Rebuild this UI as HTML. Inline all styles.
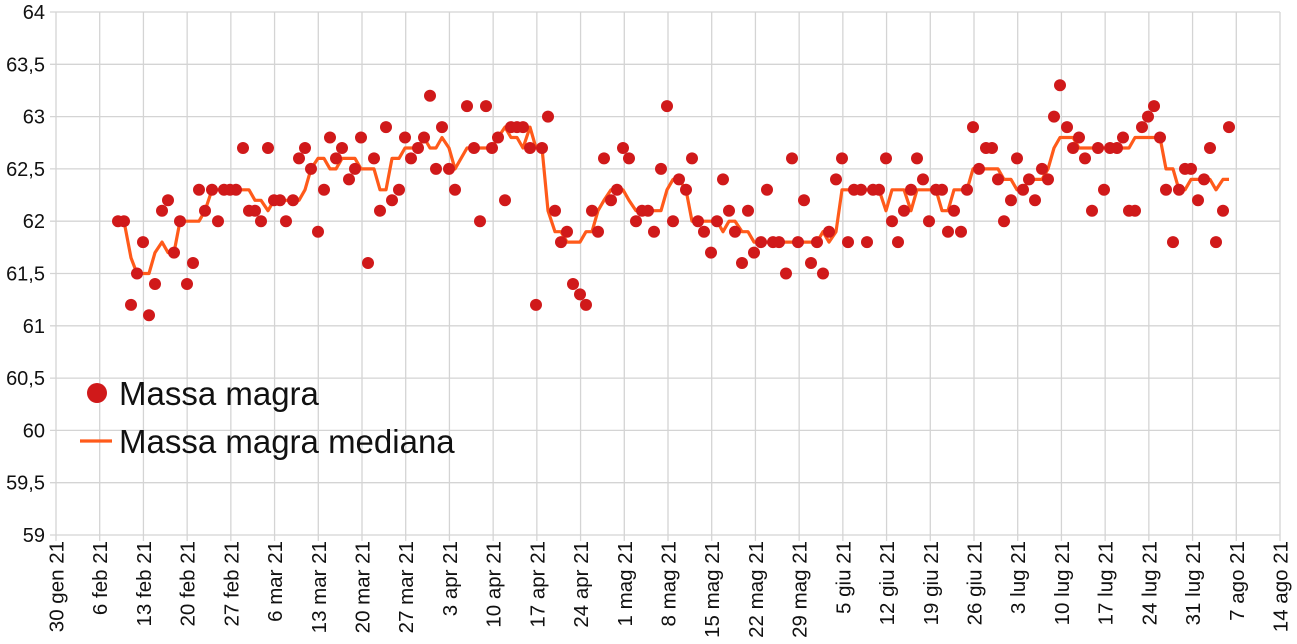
<!DOCTYPE html>
<html><head><meta charset="utf-8"><style>
html,body{margin:0;padding:0;background:#fff;width:1297px;height:644px;overflow:hidden}
svg{display:block;font-family:"Liberation Sans",sans-serif}
</style></head><body>
<svg id="s" width="1297" height="644" xmlns="http://www.w3.org/2000/svg"></svg>
<script>
const s=document.getElementById('s');
const L=56,R=1280,T=12,B=535;
const Y=v=>T+(64-v)*(B-T)/5;
let h='';
for(let i=0;i<=10;i++){const y=T+i*(B-T)/10;h+=`<line x1="${L-6}" y1="${y}" x2="${R}" y2="${y}" stroke="#d4d4d4" stroke-width="1.3"/>`;
const v=(64-i*0.5).toString().replace('.',',');h+=`<text x="45" y="${y+7}" font-size="20" text-anchor="end" fill="#111">${v}</text>`;}
const labels=["30 gen 21","6 feb 21","13 feb 21","20 feb 21","27 feb 21","6 mar 21","13 mar 21","20 mar 21","27 mar 21","3 apr 21","10 apr 21","17 apr 21","24 apr 21","1 mag 21","8 mag 21","15 mag 21","22 mag 21","29 mag 21","5 giu 21","12 giu 21","19 giu 21","26 giu 21","3 lug 21","10 lug 21","17 lug 21","24 lug 21","31 lug 21","7 ago 21","14 ago 21"];
labels.forEach((t,i)=>{const x=L+i*(R-L)/28;h+=`<line x1="${x}" y1="${T}" x2="${x}" y2="${B+6}" stroke="#d4d4d4" stroke-width="1.3"/>`;
h+=`<text transform="translate(${x+7.5},541) rotate(-90)" font-size="20.5" text-anchor="end" fill="#111">${t}</text>`;});
const d=[[118,62],[124,62],[131,61.2],[137,61.5],[143,61.8],[149,61.1],[155,61.4],[162,62.1],[168,62.2],[174,61.7],[180,62],[187,61.4],[193,61.6],[199,62.3],[205,62.1],[212,62.3],[218,62],[224,62.3],[230,62.3],[236,62.3],[243,62.7],[249,62.1],[255,62.1],[261,62],[268,62.7],[274,62.2],[280,62.2],[286,62],[293,62.2],[299,62.6],[305,62.7],[311,62.5],[318,61.9],[324,62.3],[330,62.8],[336,62.6],[342,62.7],[349,62.4],[355,62.5],[361,62.8],[368,61.6],[374,62.6],[380,62.1],[386,62.9],[392,62.2],[399,62.3],[405,62.8],[411,62.6],[418,62.7],[424,62.8],[430,63.2],[436,62.5],[442,62.9],[449,62.5],[455,62.3],[467,63.1],[474,62.7],[480,62.0],[486,63.1],[492,62.7],[498,62.8],[505,62.2],[511,62.9],[517,62.9],[523,62.9],[530,62.7],[536,61.2],[542,62.7],[548,63],[555,62.1],[561,61.8],[567,61.9],[573,61.4],[580,61.3],[586,61.2],[592,62.1],[598,61.9],[604,62.6],[611,62.2],[617,62.3],[623,62.7],[629,62.6],[636,62],[642,62.1],[648,62.1],[654,61.9],[661,62.5],[667,63.1],[673,62],[679,62.4],[686,62.3],[692,62.6],[698,62],[704,61.9],[711,61.7],[717,62],[723,62.4],[729,62.1],[735,61.9],[742,61.6],[748,62.1],[754,61.7],[761,61.8],[767,62.3],[773,61.8],[779,61.8],[786,61.5],[792,62.6],[798,61.8],[804,62.2],[811,61.6],[817,61.8],[823,61.5],[829,61.9],[836,62.4],[842,62.6],[848,61.8],[854,62.3],[861,62.3],[867,61.8],[873,62.3],[879,62.3],[886,62.6],[892,62],[898,61.8],[904,62.1],[911,62.3],[917,62.6],[923,62.4],[929,62],[936,62.3],[942,62.3],[948,61.9],[954,62.1],[961,61.9],[967,62.3],[973,62.9],[979,62.5],[986,62.7],[992,62.7],[998,62.4],[1004,62],[1011,62.2],[1017,62.6],[1023,62.3],[1029,62.4],[1035,62.2],[1042,62.5],[1048,62.4],[1054,63],[1060,63.3],[1067,62.9],[1073,62.7],[1079,62.8],[1085,62.6],[1092,62.1],[1098,62.7],[1104,62.3],[1110,62.7],[1117,62.7],[1123,62.8],[1129,62.1],[1135,62.1],[1142,62.9],[1148,63],[1154,63.1],[1160,62.8],[1166,62.3],[1173,61.8],[1179,62.3],[1185,62.5],[1191,62.5],[1198,62.2],[1204,62.4],[1210,62.7],[1216,61.8],[1223,62.1],[1229,62.9]];
let pts=[];
for(let i=0;i<d.length;i++){const w=[];for(let j=i-3;j<=i+3;j++)if(j>=0&&j<d.length)w.push(d[j][1]);w.sort((a,b)=>a-b);let m=w.length%2?w[(w.length-1)/2]:(w[w.length/2-1]+w[w.length/2])/2;if(i<2)m=62;pts.push(d[i][0]+','+Y(m).toFixed(1));}
h+=`<polyline points="${pts.join(' ')}" fill="none" stroke="#ff5a1a" stroke-width="3.2" stroke-linejoin="round"/>`;
d.forEach(p=>{h+=`<circle cx="${p[0]}" cy="${Y(p[1]).toFixed(1)}" r="6" fill="#d0191a"/>`});
h+=`<circle cx="97" cy="393" r="10" fill="#d0191a"/><text x="119" y="405" font-size="33" fill="#111">Massa magra</text>`;
h+=`<line x1="80" y1="441" x2="112" y2="441" stroke="#ff5a1a" stroke-width="3.2"/><text x="119" y="453" font-size="33" fill="#111">Massa magra mediana</text>`;
s.innerHTML=h;
</script>
</body></html>
